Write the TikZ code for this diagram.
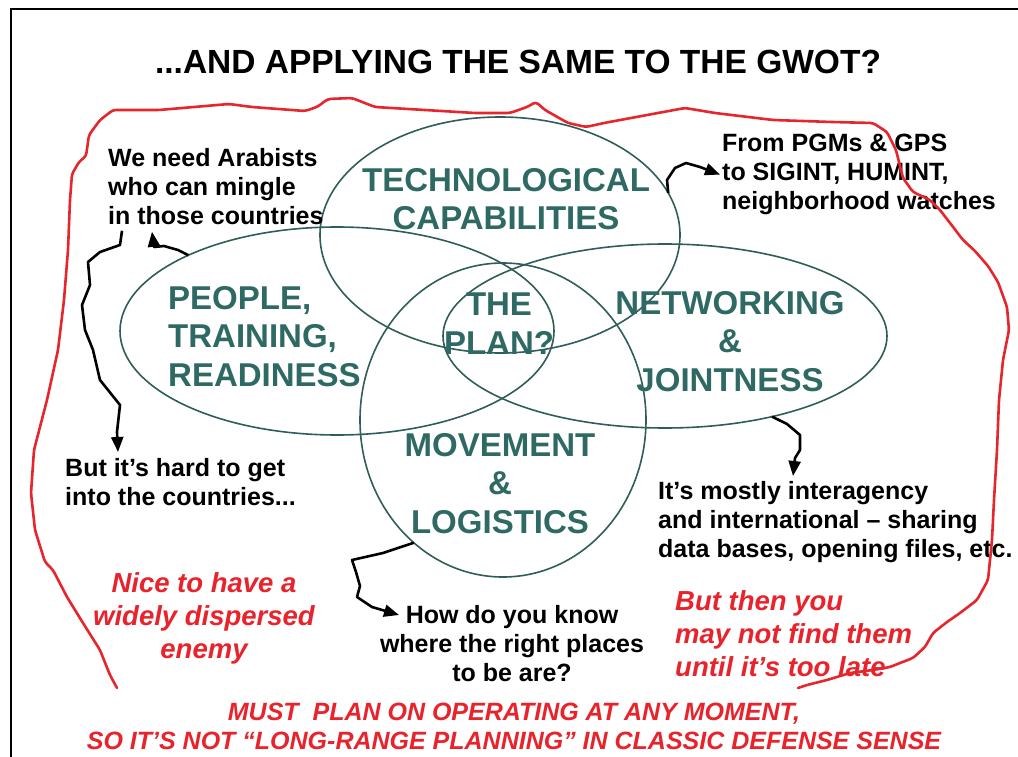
\documentclass[tikz,border=0pt]{standalone}
\usepackage{fontspec}
\setmainfont{Liberation Sans}
\usetikzlibrary{arrows.meta,shapes.geometric}
\definecolor{vline}{HTML}{2F5E5A}
\definecolor{vtext}{HTML}{2E6A63}
\definecolor{rline}{HTML}{E5262C}
\definecolor{rtext}{HTML}{E8232B}
\begin{document}
\begin{tikzpicture}[x=1pt,y=-1pt,
  venn/.style={draw=vline, line width=1.6pt, ellipse, inner sep=0pt, outer sep=0pt},
  lbl/.style={text=vtext, font=\fontsize{33}{38.5}\selectfont\bfseries, inner sep=0pt},
  note/.style={font=\fontsize{25}{29}\selectfont\bfseries, inner sep=0pt, align=left},
  rnote/.style={text=rtext, font=\fontsize{27.5}{33}\selectfont\bfseries\itshape, inner sep=0pt},
  wig/.style={line width=2.6pt, line join=round, -{Triangle[length=15pt,width=12pt]}},
  redpath/.style={draw=rline, line width=2.6pt, line join=round, line cap=round, rounded corners=3pt}]
\useasboundingbox (0,0) rectangle (1018,757);
\fill[white] (0,0) rectangle (1018,757);
\draw[line width=2pt] (11,757) -- (11,9) -- (1018,9);

\node[font=\fontsize{33.5}{40}\selectfont\bfseries, anchor=north, inner sep=0pt] (title) at (518,50) {...AND APPLYING THE SAME TO THE GWOT?};

\node[venn, minimum width=360pt, minimum height=236pt] (tech) at (500,235) {};
\node[venn, minimum width=434pt, minimum height=208pt] (people) at (337,331) {};
\node[venn, minimum width=444pt, minimum height=184pt] (net) at (665,336) {};
\node[venn, minimum width=286pt, minimum height=314pt] (move) at (503,420) {};

\node[lbl, anchor=north, align=center] (techl) at (506,168) {TECHNOLOGICAL\\CAPABILITIES};
\node[lbl, anchor=north west, align=left] (peoplel) at (168,286) {PEOPLE,\\TRAINING,\\READINESS};
\node[lbl, anchor=north, align=center] (planl) at (499,293) {THE\\PLAN?};
\node[lbl, anchor=north, align=center] (netl) at (730,291) {NETWORKING\\\&\\JOINTNESS};
\node[lbl, anchor=north, align=center] (movel) at (500,433) {MOVEMENT\\\&\\LOGISTICS};

\node[note, anchor=north west] (arab) at (108,148) {We need Arabists\\who can mingle\\in those countries};
\node[note, anchor=north west] (pgm) at (722,134) {From PGMs \& GPS\\to SIGINT, HUMINT,\\neighborhood watches};
\node[note, anchor=north west] (hard) at (65,458) {But it’s hard to get\\into the countries...};
\node[note, anchor=north west] (inter) at (658,481) {It’s mostly interagency\\and international – sharing\\data bases, opening files, etc.};
\node[note, anchor=north, align=center] (know) at (512,605) {How do you know\\where the right places\\to be are?};
\node[rnote, anchor=north, align=center] (nice) at (204,572) {Nice to have a\\widely dispersed\\enemy};
\node[rnote, anchor=north west, align=left] (late) at (675,590) {But then you\\may not find them\\until it’s too late};
\node[font=\fontsize{25}{29}\selectfont\bfseries\itshape, text=rtext, anchor=north, align=center, inner sep=0pt] (must) at (514,703) {MUST\ \ PLAN ON OPERATING AT ANY MOMENT,\\SO IT’S NOT “LONG-RANGE PLANNING” IN CLASSIC DEFENSE SENSE};

\coordinate (t1) at ([xshift=44pt,yshift=-7pt]arab.south west);
\draw[wig] (people.153) -- (178,250) -- (164,246) -- (154,247) -- (t1);
\coordinate (t2) at ([xshift=53pt,yshift=6pt]hard.north west);
\draw[wig] ([xshift=14pt,yshift=-6pt]arab.south west) -- (120,245) -- (100,252) -- (88,262) -- (90,285) -- (82,305) -- (85,330) -- (93,350) -- (100,380) -- (120,405) -- (117,432) -- (t2);
\coordinate (t3) at ([xshift=-2pt]pgm.west);
\draw[wig] (tech.14) -- (667,180) -- (675,168) -- (686,163) -- (700,167) -- (t3);
\coordinate (t4) at ([xshift=135pt,yshift=5pt]inter.north west);
\draw[wig] (net.-37) -- (787,424) -- (800,435) -- (800,450) -- (795,458) -- (t4);
\coordinate (t5) at (399,615);
\draw[wig] (move.234) -- (383,553) -- (352,560) -- (356,572) -- (360,586) -- (357,597) -- (372,607) -- (t5);

\draw[redpath] (117,688) -- (110,675) -- (100,650) -- (83,623) -- (67,597) -- (53,570) -- (45,562) -- (35,530) -- (31,493) -- (34,450) -- (47,400) -- (58,350) -- (64,300) -- (68,250) -- (70,200) -- (72,174) -- (79,162) -- (86,156) -- (89,135) -- (100,120) -- (113,110)
 -- (159,110) -- (229,104) -- (252,107) -- (305,111) -- (317,107) -- (328,99) -- (352,98) -- (375,107) -- (475,113) -- (510,113) -- (527,107) -- (536,102) -- (545,110) -- (568,123) -- (586,127) -- (604,123) -- (685,108) -- (715,113) -- (773,120) -- (832,122) -- (873,123) -- (887,132) -- (896,150) -- (903,178) -- (913,192) -- (930,200) -- (940,210) -- (950,223) -- (963,240) -- (975,251) -- (988,266) -- (998,282) -- (1007,307) -- (1009,330) -- (1003,360) -- (999,400) -- (997,450) -- (994,500) -- (992,540) -- (988,580) -- (977,600) -- (960,613) -- (947,622) -- (933,633) -- (925,647) -- (913,658) -- (900,663) -- (890,667) -- (873,670) -- (850,673) -- (827,680) -- (807,685) -- (798,688);
\end{tikzpicture}
\end{document}
